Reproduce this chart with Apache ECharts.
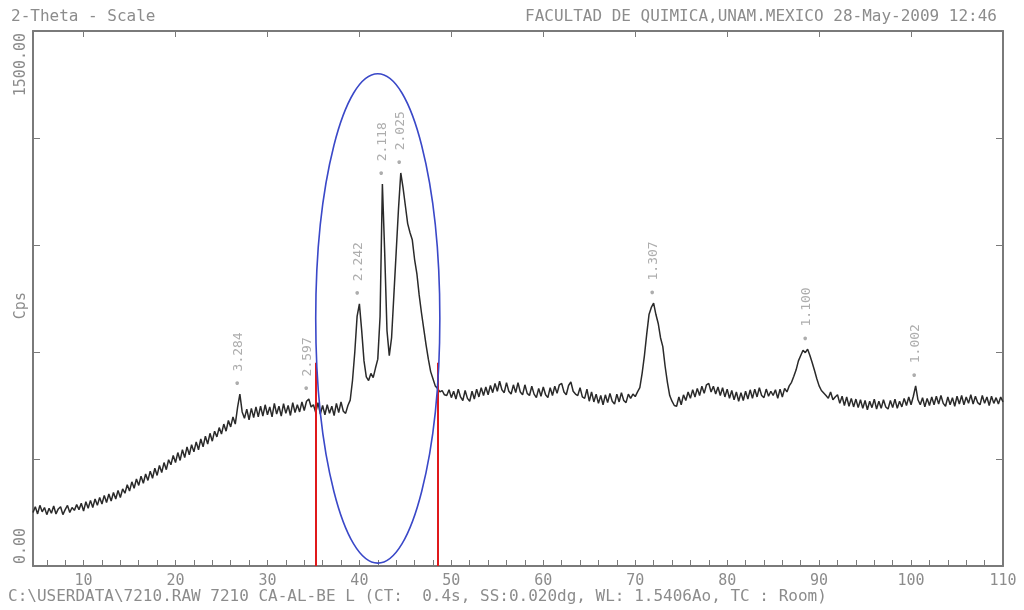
<!DOCTYPE html>
<html>
<head>
<meta charset="utf-8">
<script src="https://cdn.jsdelivr.net/npm/echarts@6/dist/echarts.min.js"></script>
<style>
  html, body { margin: 0; background: #fff; }
  #chart { width: 1024px; height: 610px; }
</style>
</head>
<body>
<div id="chart"></div>
<script>
// 2-theta sampling of the scan
const twoThetaStart = 4.5
const twoThetaStep = 0.25

// counts per second, one row = 5 degrees (20 samples)
const counts = [
  150, 166, 146, 170, 152, 164, 144, 162, 148, 168, 146, 160, 166, 144, 158, 170, 150, 164, 156, 172,
  158, 176, 154, 180, 162, 184, 164, 188, 170, 192, 174, 198, 178, 202, 182, 206, 188, 212, 192, 216,
  204, 228, 210, 236, 218, 244, 226, 252, 232, 258, 240, 266, 246, 274, 254, 282, 262, 290, 270, 298,
  284, 310, 290, 318, 296, 326, 304, 334, 312, 340, 320, 348, 326, 356, 334, 364, 342, 372, 350, 378,
  362, 388, 370, 398, 378, 408, 390, 418, 398, 445, 482, 432, 414, 440, 410, 442, 416, 446, 418, 448,
  420, 452, 424, 446, 418, 456, 426, 448, 420, 455, 428, 450, 422, 458, 430, 452, 432, 460, 436, 462,
  468, 446, 452, 430, 458, 426, 450, 424, 452, 428, 448, 422, 456, 430, 460, 434, 428, 450, 465, 520,
  600, 700, 735, 660, 575, 530, 520, 540, 528, 555, 580, 700, 1071, 880, 660, 590, 640, 760, 880, 1000,
  1102, 1060, 1010, 960, 935, 915, 860, 820, 760, 710, 665, 620, 580, 545, 525, 505, 498, 488, 492, 480,
  478, 494, 472, 490, 468, 496, 474, 464, 492, 470, 462, 490, 468, 496, 474, 500, 478, 502, 480, 506,
  486, 512, 490, 518, 494, 486, 514, 490, 482, 508, 486, 514, 488, 480, 508, 484, 478, 504, 482, 472,
  498, 476, 502, 480, 472, 500, 478, 504, 484, 508, 512, 488, 480, 506, 516, 490, 482, 478, 500, 474,
  470, 496, 462, 488, 460, 482, 456, 478, 452, 480, 458, 484, 462, 454, 482, 460, 486, 464, 458, 482,
  470, 482, 475, 488, 500, 540, 590, 650, 705, 725, 737, 705, 680, 640, 615, 560, 515, 478, 462, 450,
  448, 474, 452, 480, 464, 488, 470, 494, 474, 498, 478, 504, 484, 508, 512, 488, 504, 482, 502, 478,
  500, 474, 496, 470, 492, 466, 488, 462, 486, 464, 490, 468, 494, 470, 496, 474, 500, 478, 472, 496,
  476, 490, 478, 494, 470, 496, 474, 498, 488, 505, 515, 532, 550, 575, 590, 605, 598, 608, 590, 570,
  548, 525, 505, 492, 485, 478, 470, 488, 466, 474, 480, 456, 476, 450, 474, 448, 470, 446, 468, 444,
  466, 442, 464, 438, 462, 444, 468, 440, 462, 442, 466, 446, 440, 464, 444, 468, 442, 462, 446, 470,
  450, 474, 452, 476, 505, 466, 452, 472, 446, 470, 450, 474, 452, 476, 454, 478, 456, 448, 474, 452,
  472, 448, 476, 454, 478, 452, 474, 456, 480, 454, 476, 458, 452, 478, 456, 474, 450, 476, 456, 472,
  454, 474, 460
]

// d-spacing labels on the peaks
const peakAngles = [26.9, 34.4, 39.9, 42.5, 44.5, 72.0, 88.6, 100.5]
const peakCounts = [482, 468, 735, 1071, 1102, 737, 608, 505]
const peakLabels = ['3.284', '2.597', '2.242', '2.118', '2.025', '1.307', '1.100', '1.002']

// highlighted region
const cutAngles = [35.3, 48.5]
const cutTop = 570
const ellipse = [42.0, 694, 6.75, 686] // centre angle, centre cps, half width (deg), half height (cps)

const xMajorTicks = [10, 20, 30, 40, 50, 60, 70, 80, 90, 100, 110]
const xAllTicks = [6, 8, 10, 12, 14, 16, 18, 20, 22, 24, 26, 28, 30, 32, 34, 36, 38, 40, 42, 44, 46, 48, 50,
  52, 54, 56, 58, 60, 62, 64, 66, 68, 70, 72, 74, 76, 78, 80, 82, 84, 86, 88, 90, 92, 94, 96, 98, 100,
  102, 104, 106, 108, 110]
const yTicks = [300, 600, 900, 1200]

const mono = "'DejaVu Sans Mono', monospace"
const textGrey = '#8c8c8c'
const axisGrey = '#7a7a7a'

const chart = echarts.init(document.getElementById('chart'))

const scan = counts.map((c, i) => [twoThetaStart + i * twoThetaStep, c])

const frameAxis = {
  type: 'value',
  min: 4.5,
  max: 110,
  axisLine: { onZero: false, lineStyle: { color: axisGrey, width: 2 } },
  splitLine: { show: false },
}
const frameYAxis = {
  type: 'value',
  min: 0,
  max: 1500,
  axisLine: { show: true, onZero: false, lineStyle: { color: axisGrey, width: 2 } },
  axisTick: { show: true, inside: true, length: 7, customValues: yTicks, lineStyle: { color: axisGrey } },
  axisLabel: { show: false },
  splitLine: { show: false },
}
const headStyle = { fontFamily: mono, fontSize: 16, fontWeight: 'normal', color: textGrey }

chart.setOption({
  animation: false,
  title: [
    { text: '2-Theta - Scale', left: 6, top: 4, textStyle: headStyle },
    { text: 'FACULTAD DE QUIMICA,UNAM.MEXICO 28-May-2009 12:46', right: 22, top: 4, textStyle: headStyle },
    {
      text: 'C:\\USERDATA\\7210.RAW 7210 CA-AL-BE L (CT:  0.4s, SS:0.020dg, WL: 1.5406Ao, TC : Room)',
      left: 3,
      bottom: 0,
      textStyle: headStyle,
    },
  ],
  grid: { left: 33, right: 21, top: 31, bottom: 44 },
  xAxis: [
    {
      ...frameAxis,
      position: 'bottom',
      axisTick: { show: true, inside: true, length: 6, customValues: xAllTicks, lineStyle: { color: axisGrey } },
      axisLabel: {
        customValues: xAllTicks,
        formatter: v => (xMajorTicks.includes(v) ? String(v) : ''),
        fontFamily: mono,
        fontSize: 15,
        color: textGrey,
        margin: 8,
      },
    },
    {
      ...frameAxis,
      position: 'top',
      axisTick: { show: true, inside: true, length: 6, customValues: xMajorTicks, lineStyle: { color: axisGrey } },
      axisLabel: { show: false, customValues: xMajorTicks },
    },
  ],
  yAxis: [
    { ...frameYAxis, position: 'left' },
    { ...frameYAxis, position: 'right' },
  ],
  series: [
    {
      type: 'line',
      data: scan,
      showSymbol: false,
      lineStyle: { color: '#2a2a2a', width: 1.5 },
      markLine: {
        silent: true,
        symbol: 'none',
        label: { show: false },
        lineStyle: { color: '#e0191b', width: 2, type: 'solid' },
        data: cutAngles.map(a => [{ coord: [a, 0] }, { coord: [a, cutTop] }]),
      },
      z: 3,
    },
    {
      type: 'scatter',
      data: peakAngles.map((a, i) => [a, peakCounts[i]]),
      symbolSize: 0,
      label: {
        show: true,
        position: 'top',
        distance: 7,
        rotate: 90,
        align: 'left',
        verticalAlign: 'middle',
        fontFamily: mono,
        fontSize: 13,
        color: '#999',
        formatter: p => '\u2022 ' + peakLabels[p.dataIndex],
      },
      z: 4,
    },
    {
      type: 'custom',
      data: [ellipse],
      encode: { x: 0, y: 1 },
      clip: false,
      silent: true,
      renderItem: (params, api) => {
        const c = api.coord([api.value(0), api.value(1)])
        const s = api.size([api.value(2), api.value(3)])
        return {
          type: 'ellipse',
          shape: { cx: c[0], cy: c[1], rx: s[0], ry: s[1] },
          style: { fill: 'none', stroke: '#3a48c8', lineWidth: 1.6 },
        }
      },
      z: 5,
    },
  ],
})

// rotated y-axis texts placed from the axis scale
const yZero = chart.convertToPixel({ yAxisIndex: 0 }, 0)
const yTop = chart.convertToPixel({ yAxisIndex: 0 }, 1500)
const yMid = chart.convertToPixel({ yAxisIndex: 0 }, 730)
const yText = (text, y, align) => ({
  type: 'text',
  x: 21,
  y: y,
  rotation: Math.PI / 2,
  style: { text, fontFamily: mono, fontSize: 15, fill: textGrey, align, verticalAlign: 'middle' },
})
chart.setOption({
  graphic: [
    yText('0.00', yZero - 2, 'left'),
    yText('1500.00', yTop + 2, 'right'),
    yText('Cps', yMid, 'center'),
  ],
})
</script>
</body>
</html>
